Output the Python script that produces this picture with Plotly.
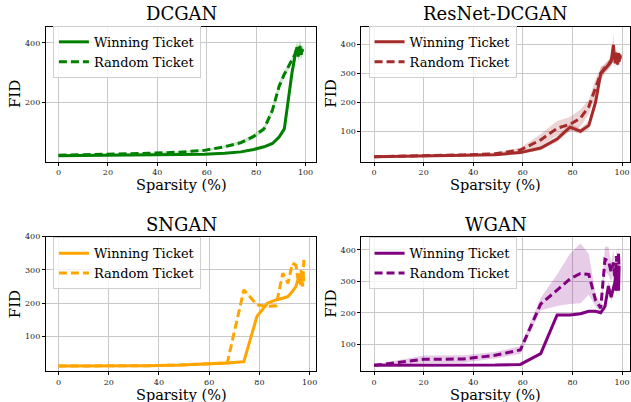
import plotly.graph_objects as go
from plotly.subplots import make_subplots

# sparsity levels of iterative pruning (%)
SPARSITY = [0, 20, 36, 48.8, 59.0, 67.2, 73.8, 79.0, 83.2, 86.6, 89.3, 91.4,
            93.1, 94.5, 95.6, 96.5, 97.2, 97.7, 98.2, 98.6, 98.8, 99.1, 99.3]

# DCGAN
dcgan_win = [22, 23, 24, 25, 27, 30, 35, 43, 52, 63, 85, 112, 220, 300, 350, 385, 365, 390, 360, 380, 370]
dcgan_win_std = [2, 2, 2, 2, 2, 2, 3, 3, 4, 5, 8, 10, 15, 15, 15, 20, 20, 25, 20, 15, 15]
dcgan_rand = [24, 27, 30, 34, 40, 52, 66, 87, 112, 175, 255, 295, 320, 340, 360, 385, 350, 390, 365, 380, 370]
dcgan_rand_std = [2, 2, 2, 3, 4, 5, 6, 8, 10, 12, 15, 12, 10, 10, 10, 12, 15, 20, 20, 15, 15]

# ResNet-DCGAN
resnet_win = [12, 14, 16, 19, 26, 42, 73, 114, 100, 120, 200, 300, 315, 330, 340, 398, 335, 372, 330, 370, 340, 365, 355]
resnet_win_std = [2, 2, 2, 3, 5, 8, 10, 12, 10, 15, 20, 25, 15, 15, 15, 40, 20, 15, 15, 15, 15, 15, 15]
resnet_rand = [12, 15, 18, 22, 35, 70, 110, 124, 145, 185, 250, 300, 320, 330, 345, 370, 350, 360, 340, 355, 345, 360, 350]
resnet_rand_std = [3, 3, 3, 4, 8, 20, 25, 25, 30, 25, 30, 20, 15, 15, 15, 20, 20, 15, 15, 15, 15, 15, 15]

# SNGAN
sngan_win = [11, 11, 12, 14, 17, 20, 24, 160, 200, 210, 215, 220, 235, 250, 275, 255, 290, 265]
sngan_win_std = [2, 2, 2, 2, 3, 4, 4, 6, 5, 5, 5, 5, 5, 6, 8, 8, 10, 10]
sngan_rand = [11, 11, 12, 14, 17, 20, 240, 195, 190, 192, 290, 260, 320, 315, 260, 300, 250, 330]
sngan_rand_std = [2, 2, 2, 2, 3, 6, 6, 5, 5, 5, 6, 6, 6, 6, 6, 6, 6, 6]

# WGAN
wgan_win = [33, 33, 33, 34, 36, 70, 193, 193, 197, 205, 205, 200, 220, 285, 250, 280, 300, 270, 345, 270, 350]
wgan_win_std = [2, 2, 2, 2, 2, 3, 4, 4, 4, 4, 4, 5, 10, 15, 15, 15, 15, 15, 20, 15, 15]
wgan_rand = [33, 52, 53, 65, 82, 228, 272, 308, 325, 322, 240, 215, 370, 365, 330, 360, 300, 380, 280, 390, 340]
wgan_rand_std = [3, 12, 12, 10, 12, 20, 50, 80, 95, 65, 20, 15, 40, 45, 30, 40, 30, 30, 30, 30, 30]

FONT = "DejaVu Serif"

panels = [
    # title, win, win_std, rand, rand_std, color, band, row, col, xrange, yrange, yticks
    ("DCGAN", dcgan_win, dcgan_win_std, dcgan_rand, dcgan_rand_std,
     "#008000", "rgba(0,128,0,0.2)", 1, 1, [-5.1, 104.3], [2, 453], [200, 400]),
    ("ResNet-DCGAN", resnet_win, resnet_win_std, resnet_rand, resnet_rand_std,
     "#a52a2a", "rgba(165,42,42,0.2)", 1, 2, [-5.1, 103.2], [-5.5, 460], [100, 200, 300, 400]),
    ("SNGAN", sngan_win, sngan_win_std, sngan_rand, sngan_rand_std,
     "#ffa500", "rgba(255,165,0,0.2)", 2, 1, [-5.0, 102.6], [-4, 400], [100, 200, 300, 400]),
    ("WGAN", wgan_win, wgan_win_std, wgan_rand, wgan_rand_std,
     "#800080", "rgba(128,0,128,0.2)", 2, 2, [-5.1, 103.2], [15, 442], [100, 200, 300, 400]),
]

x_dom = {1: [0.0729, 0.5019], 2: [0.5737, 1.0]}
y_dom = {1: [0.6037, 0.942], 2: [0.0779, 0.4154]}
title_x = {1: 0.2875, 2: 0.787}
title_y = {1: 0.975, 2: 0.445}
xlab_y = {1: 0.544, 2: 0.018}
ylab_x = {1: 0.024, 2: 0.525}
ylab_y = {1: 0.774, 2: 0.246}
leg_x = {1: 0.084, 2: 0.585}
leg_y = {1: 0.945, 2: 0.414}

fig = make_subplots(rows=2, cols=2)

for i, (title, win, win_std, rand, rand_std, color, band, r, c, xr, yr, yt) in enumerate(panels):
    leg = "legend" if i == 0 else f"legend{i + 1}"
    for vals, std in [(win, win_std), (rand, rand_std)]:
        xs = SPARSITY[:len(vals)]
        upper = [v + s for v, s in zip(vals, std)]
        lower = [v - s for v, s in zip(vals, std)]
        fig.add_trace(go.Scatter(x=xs, y=upper, mode="lines", line=dict(width=0),
                                 showlegend=False, hoverinfo="skip", legend=leg), row=r, col=c)
        fig.add_trace(go.Scatter(x=xs, y=lower, mode="lines", line=dict(width=0),
                                 fill="tonexty", fillcolor=band,
                                 showlegend=False, hoverinfo="skip", legend=leg), row=r, col=c)
    fig.add_trace(go.Scatter(x=SPARSITY[:len(win)], y=win, mode="lines", name="Winning Ticket",
                             line=dict(color=color, width=3), legend=leg), row=r, col=c)
    fig.add_trace(go.Scatter(x=SPARSITY[:len(rand)], y=rand, mode="lines", name="Random Ticket",
                             line=dict(color=color, width=3, dash="8px,4px"), legend=leg), row=r, col=c)

    fig.update_xaxes(domain=x_dom[c], range=xr, tickvals=[0, 20, 40, 60, 80, 100],
                     row=r, col=c)
    fig.update_yaxes(domain=y_dom[r], range=yr, tickvals=yt, row=r, col=c)

    fig.add_annotation(text=title, x=title_x[c], y=title_y[r], xref="paper", yref="paper",
                       xanchor="center", yanchor="middle", showarrow=False,
                       font=dict(family=FONT, size=18, color="black"))
    fig.add_annotation(text="Sparsity (%)", x=title_x[c], y=xlab_y[r], xref="paper", yref="paper",
                       xanchor="center", yanchor="middle", showarrow=False,
                       font=dict(family=FONT, size=14.5, color="black"))
    fig.add_annotation(text="FID", x=ylab_x[c], y=ylab_y[r], xref="paper", yref="paper",
                       xanchor="center", yanchor="middle", textangle=-90, showarrow=False,
                       font=dict(family=FONT, size=15, color="black"))

    fig.layout[leg] = dict(x=leg_x[c], y=leg_y[r], xanchor="left", yanchor="top",
                           bgcolor="rgba(255,255,255,0.8)", bordercolor="#d0d0d0", borderwidth=1,
                           font=dict(family=FONT, size=13, color="black"),
                           traceorder="normal", tracegroupgap=0, itemwidth=30)

fig.update_xaxes(showline=True, mirror=True, linecolor="black", linewidth=1,
                 ticks="outside", ticklen=3, tickcolor="black",
                 showgrid=True, gridcolor="#c8c8c8", gridwidth=1, zeroline=False,
                 tickfont=dict(family=FONT, size=8, color="#222"))
fig.update_yaxes(showline=True, mirror=True, linecolor="black", linewidth=1,
                 ticks="outside", ticklen=3, tickcolor="black",
                 showgrid=True, gridcolor="#c8c8c8", gridwidth=1, zeroline=False,
                 tickfont=dict(family=FONT, size=8, color="#222"))

fig.update_layout(width=631, height=402, margin=dict(l=0, r=0, t=0, b=0),
                  plot_bgcolor="white", paper_bgcolor="white")

# drop the default page margin so the figure sits at the window's corner
fig.write_html("out.html", config={"displayModeBar": False},
               post_script="document.body.style.margin='0';")
